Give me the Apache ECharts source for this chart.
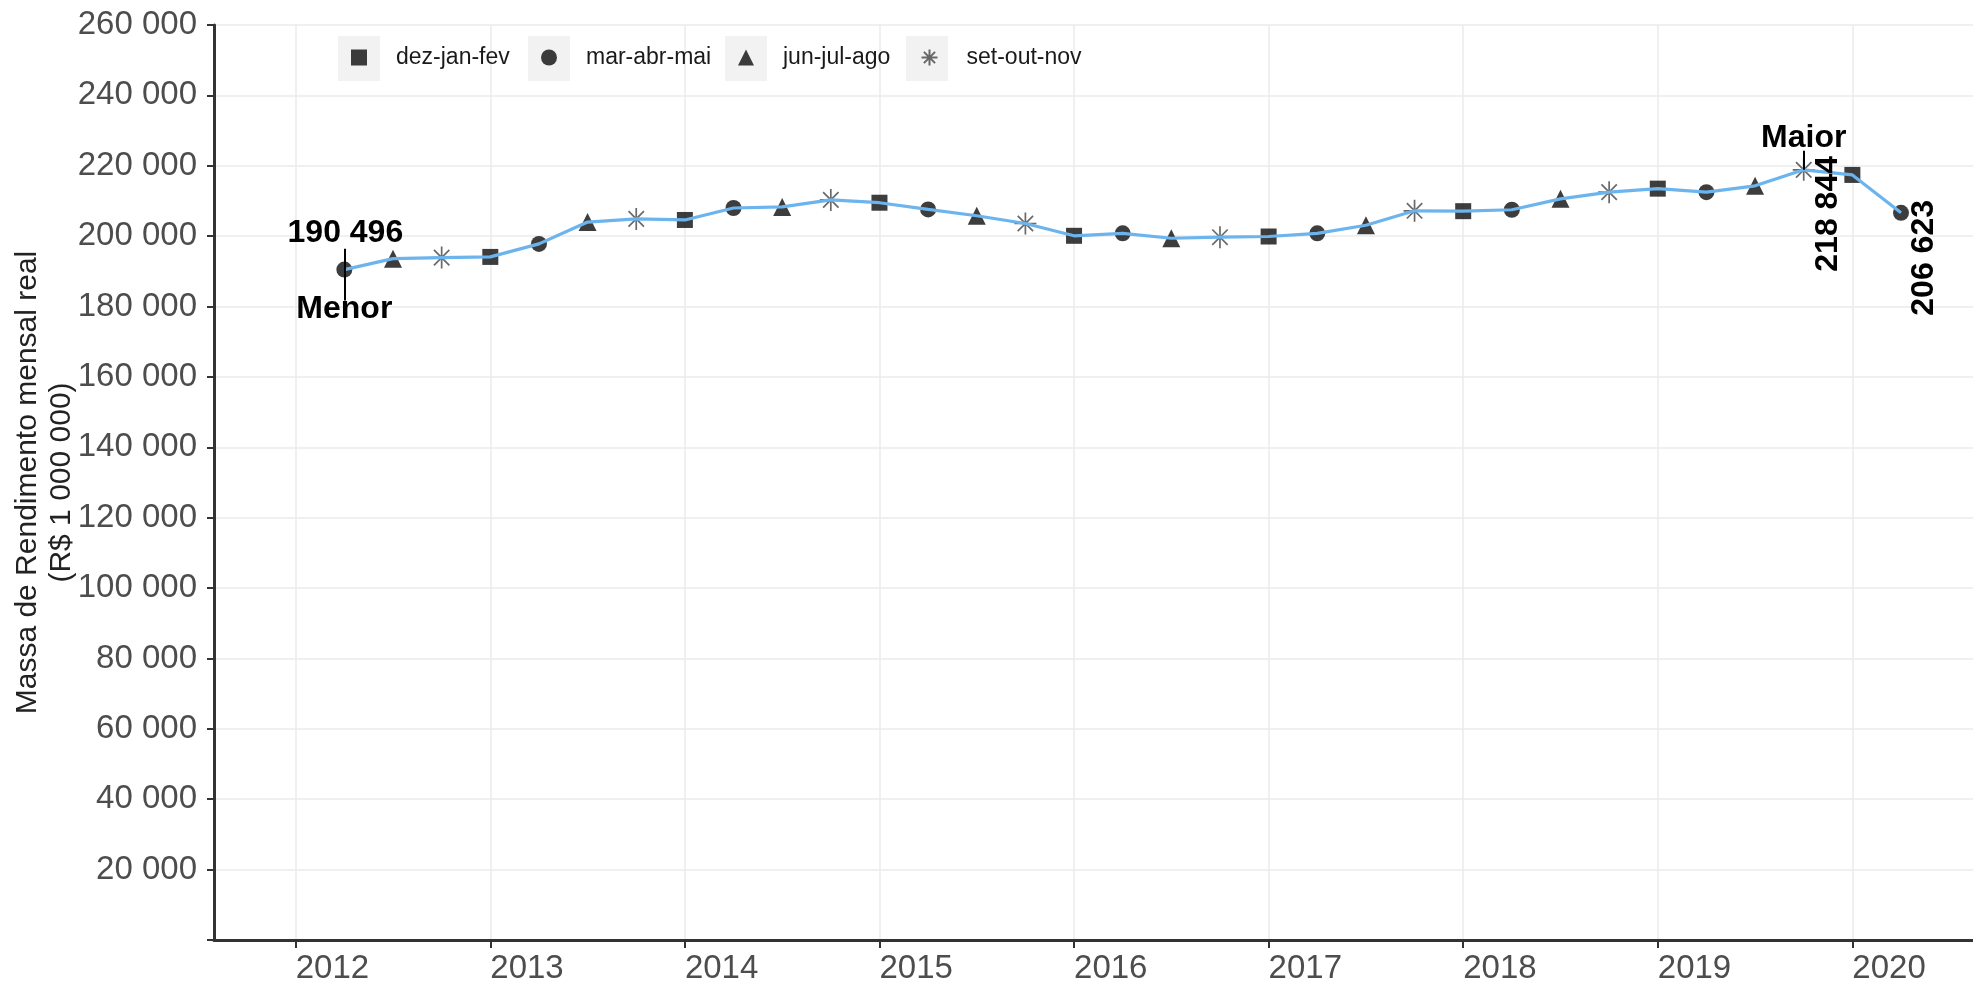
<!DOCTYPE html>
<html>
<head>
<meta charset="utf-8">
<script src="https://cdn.jsdelivr.net/npm/echarts@6/dist/echarts.min.js"></script>
<style>
html, body { margin: 0; padding: 0; background: #ffffff; }
#massaRendimento { width: 1973px; height: 982px; }
</style>
</head>
<body>
<div id="massaRendimento"></div>
<script>
// trimestres moveis, de mar-abr-mai 2012 a mar-abr-mai 2020
var ano = [2012, 2012, 2012,
    2013, 2013, 2013, 2013,
    2014, 2014, 2014, 2014,
    2015, 2015, 2015, 2015,
    2016, 2016, 2016, 2016,
    2017, 2017, 2017, 2017,
    2018, 2018, 2018, 2018,
    2019, 2019, 2019, 2019,
    2020, 2020];
var trimestre = ['mar-abr-mai', 'jun-jul-ago', 'set-out-nov',
    'dez-jan-fev', 'mar-abr-mai', 'jun-jul-ago', 'set-out-nov',
    'dez-jan-fev', 'mar-abr-mai', 'jun-jul-ago', 'set-out-nov',
    'dez-jan-fev', 'mar-abr-mai', 'jun-jul-ago', 'set-out-nov',
    'dez-jan-fev', 'mar-abr-mai', 'jun-jul-ago', 'set-out-nov',
    'dez-jan-fev', 'mar-abr-mai', 'jun-jul-ago', 'set-out-nov',
    'dez-jan-fev', 'mar-abr-mai', 'jun-jul-ago', 'set-out-nov',
    'dez-jan-fev', 'mar-abr-mai', 'jun-jul-ago', 'set-out-nov',
    'dez-jan-fev', 'mar-abr-mai'];
var valores = [190496, 193600, 193900,
    194100, 197800, 204000, 204900,
    204600, 208000, 208300, 210300,
    209500, 207600, 205800, 203600,
    200100, 200800, 199400, 199700,
    199900, 200800, 203100, 207200,
    207100, 207500, 210600, 212500,
    213500, 212500, 214300, 218844,
    217400, 206623];
var legendas = ['dez-jan-fev', 'mar-abr-mai', 'jun-jul-ago', 'set-out-nov'];
var anosEixo = [2012, 2013, 2014, 2015, 2016, 2017, 2018, 2019, 2020];
var ticksY = [20000, 40000, 60000, 80000, 100000, 120000, 140000, 160000, 180000, 200000, 220000, 240000, 260000];

// posicao do trimestre dentro do ano
var deslocamento = {'dez-jan-fev': 0, 'mar-abr-mai': 0.25, 'jun-jul-ago': 0.5, 'set-out-nov': 0.75};
var asterisco = 'path://M10 0L10 20M0 10L20 10M3 3L17 17M17 3L3 17';
var simbolos = {
    'dez-jan-fev': {symbol: 'rect', size: 16},
    'mar-abr-mai': {symbol: 'circle', size: 16},
    'jun-jul-ago': {symbol: 'triangle', size: 18},
    'set-out-nov': {symbol: asterisco, size: 22}
};

function milhar(v) {
    return String(v).replace(/\B(?=(\d{3})+(?!\d))/g, ' ');
}

var pontos = valores.map(function (v, i) {
    return [ano[i] + deslocamento[trimestre[i]], v];
});
var iMax = valores.indexOf(Math.max.apply(null, valores));
var iMin = valores.indexOf(Math.min.apply(null, valores));
var iUlt = valores.length - 1;

var fonte = '"Liberation Sans", Arial, sans-serif';
var rotuloNegrito = {fontFamily: fonte, fontSize: 32, fontWeight: 'bold', color: '#000'};

var series = legendas.map(function (nome) {
    var s = simbolos[nome];
    var estrela = nome === 'set-out-nov';
    return {
        name: nome,
        type: 'scatter',
        symbol: s.symbol,
        symbolSize: s.size,
        itemStyle: estrela
            ? {color: 'none', borderColor: '#444', borderWidth: 1.7}
            : {color: '#0d0d0d'},
        data: pontos.filter(function (p, i) { return trimestre[i] === nome; }),
        z: 3
    };
});

series.push({
    name: 'massa',
    type: 'line',
    data: pontos,
    showSymbol: false,
    lineStyle: {color: '#6cb4ee', width: 3.2},
    itemStyle: {color: '#6cb4ee'},
    z: 4,
    silent: true,
    markLine: {
        symbol: 'none',
        silent: true,
        label: {show: false},
        lineStyle: {color: '#000', width: 2, type: 'solid'},
        data: [
            [{coord: [pontos[iMin][0], 196400]}, {coord: [pontos[iMin][0], 181700]}],
            [{coord: [pontos[iMax][0], 224300]}, {coord: pontos[iMax]}]
        ]
    },
    markPoint: {
        symbol: 'circle',
        symbolSize: 0,
        silent: true,
        data: [
            {coord: pontos[iMin], label: Object.assign({show: true, formatter: milhar(valores[iMin]), offset: [1, -36]}, rotuloNegrito)},
            {coord: pontos[iMin], label: Object.assign({show: true, formatter: 'Menor', offset: [0, 40]}, rotuloNegrito)},
            {coord: pontos[iMax], label: Object.assign({show: true, formatter: 'Maior', offset: [0, -32]}, rotuloNegrito)},
            // com rotate o deslocamento e dado no referencial girado
            {coord: pontos[iMax], label: Object.assign({show: true, formatter: milhar(valores[iMax]), rotate: 90, offset: [-44, 24]}, rotuloNegrito)},
            {coord: pontos[iUlt], label: Object.assign({show: true, formatter: milhar(valores[iUlt]), rotate: 90, offset: [-45, 23]}, rotuloNegrito)}
        ]
    }
});

// legenda: um componente por item, com a caixa cinza do ggplot atras do simbolo
var centrosLegenda = [359, 549, 746, 927];
var legend = legendas.map(function (nome, k) {
    return {
        data: [nome],
        left: centrosLegenda[k] - 8,
        top: 58 - 12,
        padding: 0,
        itemWidth: 16,
        itemHeight: 16,
        selectedMode: false,
        textStyle: {fontFamily: fonte, fontSize: 23, color: '#1a1a1a', padding: [0, 0, 0, 24]}
    };
});
var caixas = centrosLegenda.map(function (c) {
    return {type: 'rect', left: c - 21, top: 36, z: -1, shape: {width: 42, height: 45}, style: {fill: '#f2f2f2'}};
});

var grafico = echarts.init(document.getElementById('massaRendimento'));
grafico.setOption({
    backgroundColor: '#ffffff',
    animation: false,
    graphic: caixas,
    legend: legend,
    grid: {left: 214, right: 0, top: 25, bottom: 42, containLabel: false, outerBoundsMode: 'none'},
    xAxis: {
        type: 'value',
        min: 2011.58,
        max: 2020.62,
        axisLine: {lineStyle: {color: '#333', width: 3}},
        axisTick: {customValues: anosEixo, length: 8, lineStyle: {color: '#333', width: 2}},
        axisLabel: {
            customValues: anosEixo,
            align: 'left',
            margin: 12,
            fontFamily: fonte,
            fontSize: 33,
            color: '#4d4d4d',
            formatter: function (v) { return String(v); }
        },
        splitLine: {show: true, lineStyle: {color: '#ebebeb', width: 1.5}}
    },
    yAxis: {
        type: 'value',
        min: 0,
        max: 260000,
        interval: 20000,
        name: 'Massa de Rendimento mensal real\n(R$ 1 000 000)',
        nameLocation: 'middle',
        nameGap: 135,
        nameMoveOverlap: false,
        nameTextStyle: {fontFamily: fonte, fontSize: 30, color: '#222', lineHeight: 34},
        axisLine: {show: true, lineStyle: {color: '#333', width: 3}},
        axisTick: {show: true, length: 7, lineStyle: {color: '#333', width: 2}},
        axisLabel: {
            margin: 17,
            fontFamily: fonte,
            fontSize: 33,
            color: '#4d4d4d',
            formatter: function (v) { return ticksY.indexOf(v) < 0 ? '' : milhar(v); }
        },
        splitLine: {show: true, lineStyle: {color: '#ebebeb', width: 1.5}}
    },
    series: series
});
</script>
</body>
</html>
